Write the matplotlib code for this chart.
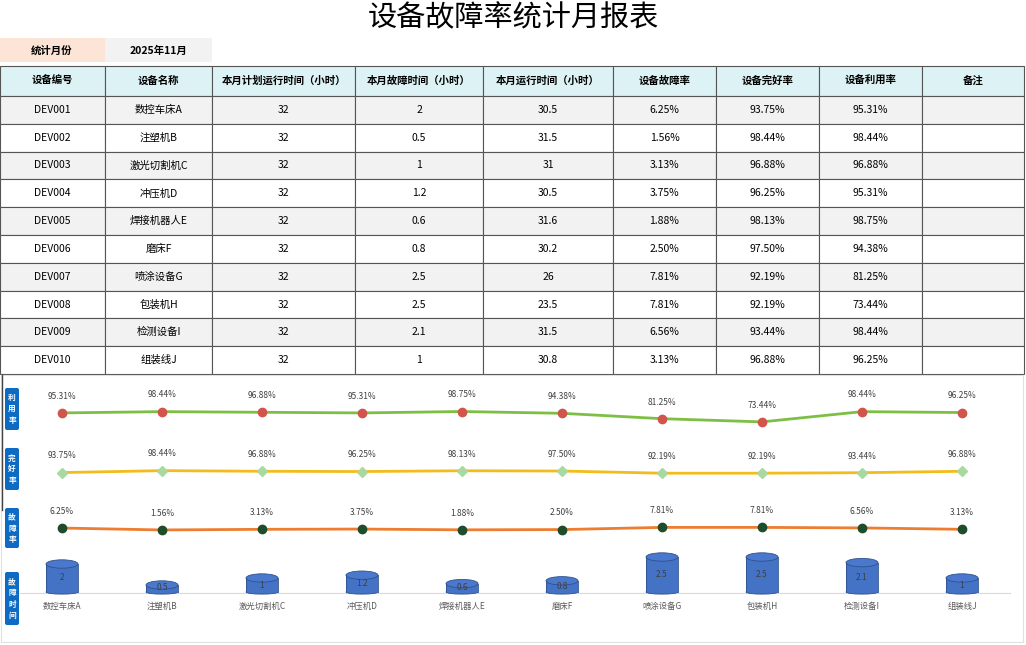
import matplotlib
matplotlib.use("Agg")
import matplotlib.pyplot as plt
from matplotlib.patches import Rectangle, Ellipse, FancyBboxPatch

plt.rcParams['font.family'] = ['Noto Sans CJK SC', 'DejaVu Sans']

TITLE = "设备故障率统计月报表"
MONTH_LABEL = "统计月份"
MONTH_VALUE = "2025年11月"
HEADERS = ["设备编号", "设备名称", "本月计划运行时间（小时）", "本月故障时间（小时）",
           "本月运行时间（小时）", "设备故障率", "设备完好率", "设备利用率", "备注"]
dev_ids = ["DEV001", "DEV002", "DEV003", "DEV004", "DEV005",
           "DEV006", "DEV007", "DEV008", "DEV009", "DEV010"]
dev_names = ["数控车床A", "注塑机B", "激光切割机C", "冲压机D", "焊接机器人E",
             "磨床F", "喷涂设备G", "包装机H", "检测设备I", "组装线J"]
planned = [32] * 10
fault_time = [2, 0.5, 1, 1.2, 0.6, 0.8, 2.5, 2.5, 2.1, 1]
run_time = [30.5, 31.5, 31, 30.5, 31.6, 30.2, 26, 23.5, 31.5, 30.8]
fault_rate = [6.25, 1.56, 3.13, 3.75, 1.88, 2.50, 7.81, 7.81, 6.56, 3.13]
good_rate = [93.75, 98.44, 96.88, 96.25, 98.13, 97.50, 92.19, 92.19, 93.44, 96.88]
util_rate = [95.31, 98.44, 96.88, 95.31, 98.75, 94.38, 81.25, 73.44, 98.44, 96.25]

W, H = 1026, 645
fig = plt.figure(figsize=(W / 100, H / 100), dpi=100)
ax = fig.add_axes([0, 0, 1, 1])
ax.set_xlim(0, W)
ax.set_ylim(H, 0)
ax.axis("off")

ax.text(513, 18, TITLE, ha="center", va="center", fontsize=21)

# month box
ax.add_patch(Rectangle((0, 38), 105, 24, fc="#FCE4D6", ec="none"))
ax.add_patch(Rectangle((105, 38), 107, 24, fc="#F2F2F2", ec="none"))
ax.text(52, 51, MONTH_LABEL, ha="center", va="center", fontsize=7.5, fontweight="bold")
ax.text(158, 51, MONTH_VALUE, ha="center", va="center", fontsize=7.5, fontweight="bold")

cols = [0, 105, 212, 355, 483, 613, 716, 819, 922, 1024]
y0, hh, rh = 66, 30, 27.8
for i, h in enumerate(HEADERS):
    ax.add_patch(Rectangle((cols[i], y0), cols[i + 1] - cols[i], hh, fc="#DDF2F4", ec="#555555", lw=0.8))
    ax.text((cols[i] + cols[i + 1]) / 2, y0 + hh / 2, h, ha="center", va="center",
            fontsize=7.5, fontweight="bold")
for r in range(10):
    top = y0 + hh + r * rh
    vals = [dev_ids[r], dev_names[r], f"{planned[r]}", f"{fault_time[r]:g}", f"{run_time[r]:g}",
            f"{fault_rate[r]:.2f}%", f"{good_rate[r]:.2f}%", f"{util_rate[r]:.2f}%", ""]
    fc = "#F2F2F2" if r % 2 == 0 else "white"
    for i, v in enumerate(vals):
        ax.add_patch(Rectangle((cols[i], top), cols[i + 1] - cols[i], rh, fc=fc, ec="#555555", lw=0.8))
        ax.text((cols[i] + cols[i + 1]) / 2, top + rh / 2, v, ha="center", va="center", fontsize=7.5)

# chart frame
ax.add_patch(Rectangle((1, 375), 1022, 267, fc="none", ec="#E0E0E0", lw=0.8))
ax.plot([2, 2], [375, 510], color="#444444", lw=1)

# side labels
side = [("利\n用\n率", 388, 430), ("完\n好\n率", 448, 490), ("故\n障\n率", 508, 548), ("故\n障\n时\n间", 572, 625)]
for txt, a, b in side:
    ax.add_patch(FancyBboxPatch((5, a), 14, b - a, boxstyle="round,pad=0,rounding_size=2",
                                fc="#0E6BC4", ec="none"))
    ax.text(12, (a + b) / 2, txt, ha="center", va="center", fontsize=5.5, color="white",
            fontweight="bold", linespacing=1.3)

xs = list(range(10))
def strip(base_px, vals, lc, mc, marker, ms, fmt_off=12):
    # axes with 0..100 mapped onto 41 px ending at base_px
    a = fig.add_axes([12 / W, 1 - base_px / H, 1000 / W, 41 / H])
    a.set_xlim(-0.5, 9.5)
    a.set_ylim(0, 100)
    a.axis("off")
    a.plot(xs, vals, color=lc, lw=2, marker=marker, ms=ms, mfc=mc, mec=mc, clip_on=False, zorder=3)
    for x, v in zip(xs, vals):
        a.annotate(f"{v:.2f}%", (x, v), xytext=(0, fmt_off), textcoords="offset points",
                   ha="center", va="center", fontsize=6, color="#404040")

strip(452, util_rate, "#7DBF45", "#D2554B", "o", 6)
strip(511, good_rate, "#F2BC1C", "#A9D8A0", "D", 5)
strip(530.6, fault_rate, "#ED7D31", "#1E4D2B", "o", 6)

# cylinders for fault time
bx = fig.add_axes([12 / W, 1 - 592 / H, 1000 / W, 42 / H])
bx.set_xlim(-0.5, 9.5)
bx.set_ylim(0, 3)
bx.axis("off")
bw = 0.32
eh = 0.6
for x, v in zip(xs, fault_time):
    bx.add_patch(Ellipse((x, 0), bw, eh * 0.5, fc="#4472C4", ec="#2F528F", lw=0.6, clip_on=False))
    bx.bar(x, v, width=bw, color="#4472C4", lw=0, clip_on=False)
    bx.plot([x - bw / 2, x - bw / 2], [0, v], color="#2F528F", lw=0.6, clip_on=False)
    bx.plot([x + bw / 2, x + bw / 2], [0, v], color="#2F528F", lw=0.6, clip_on=False)
    bx.add_patch(Ellipse((x, v), bw, eh, fc="#4A78CC", ec="#2F528F", lw=0.6, clip_on=False))
    bx.text(x, max(v / 2, 0.35), f"{v:g}", ha="center", va="center", fontsize=6, color="#404040")
ax.plot([20, 1010], [593, 593], color="#D9D9D9", lw=0.8)
for x, n in zip(xs, dev_names):
    ax.text(62 + 100 * x, 606, n, ha="center", va="center", fontsize=6, color="#595959")

fig.savefig("out.png", dpi=100)
